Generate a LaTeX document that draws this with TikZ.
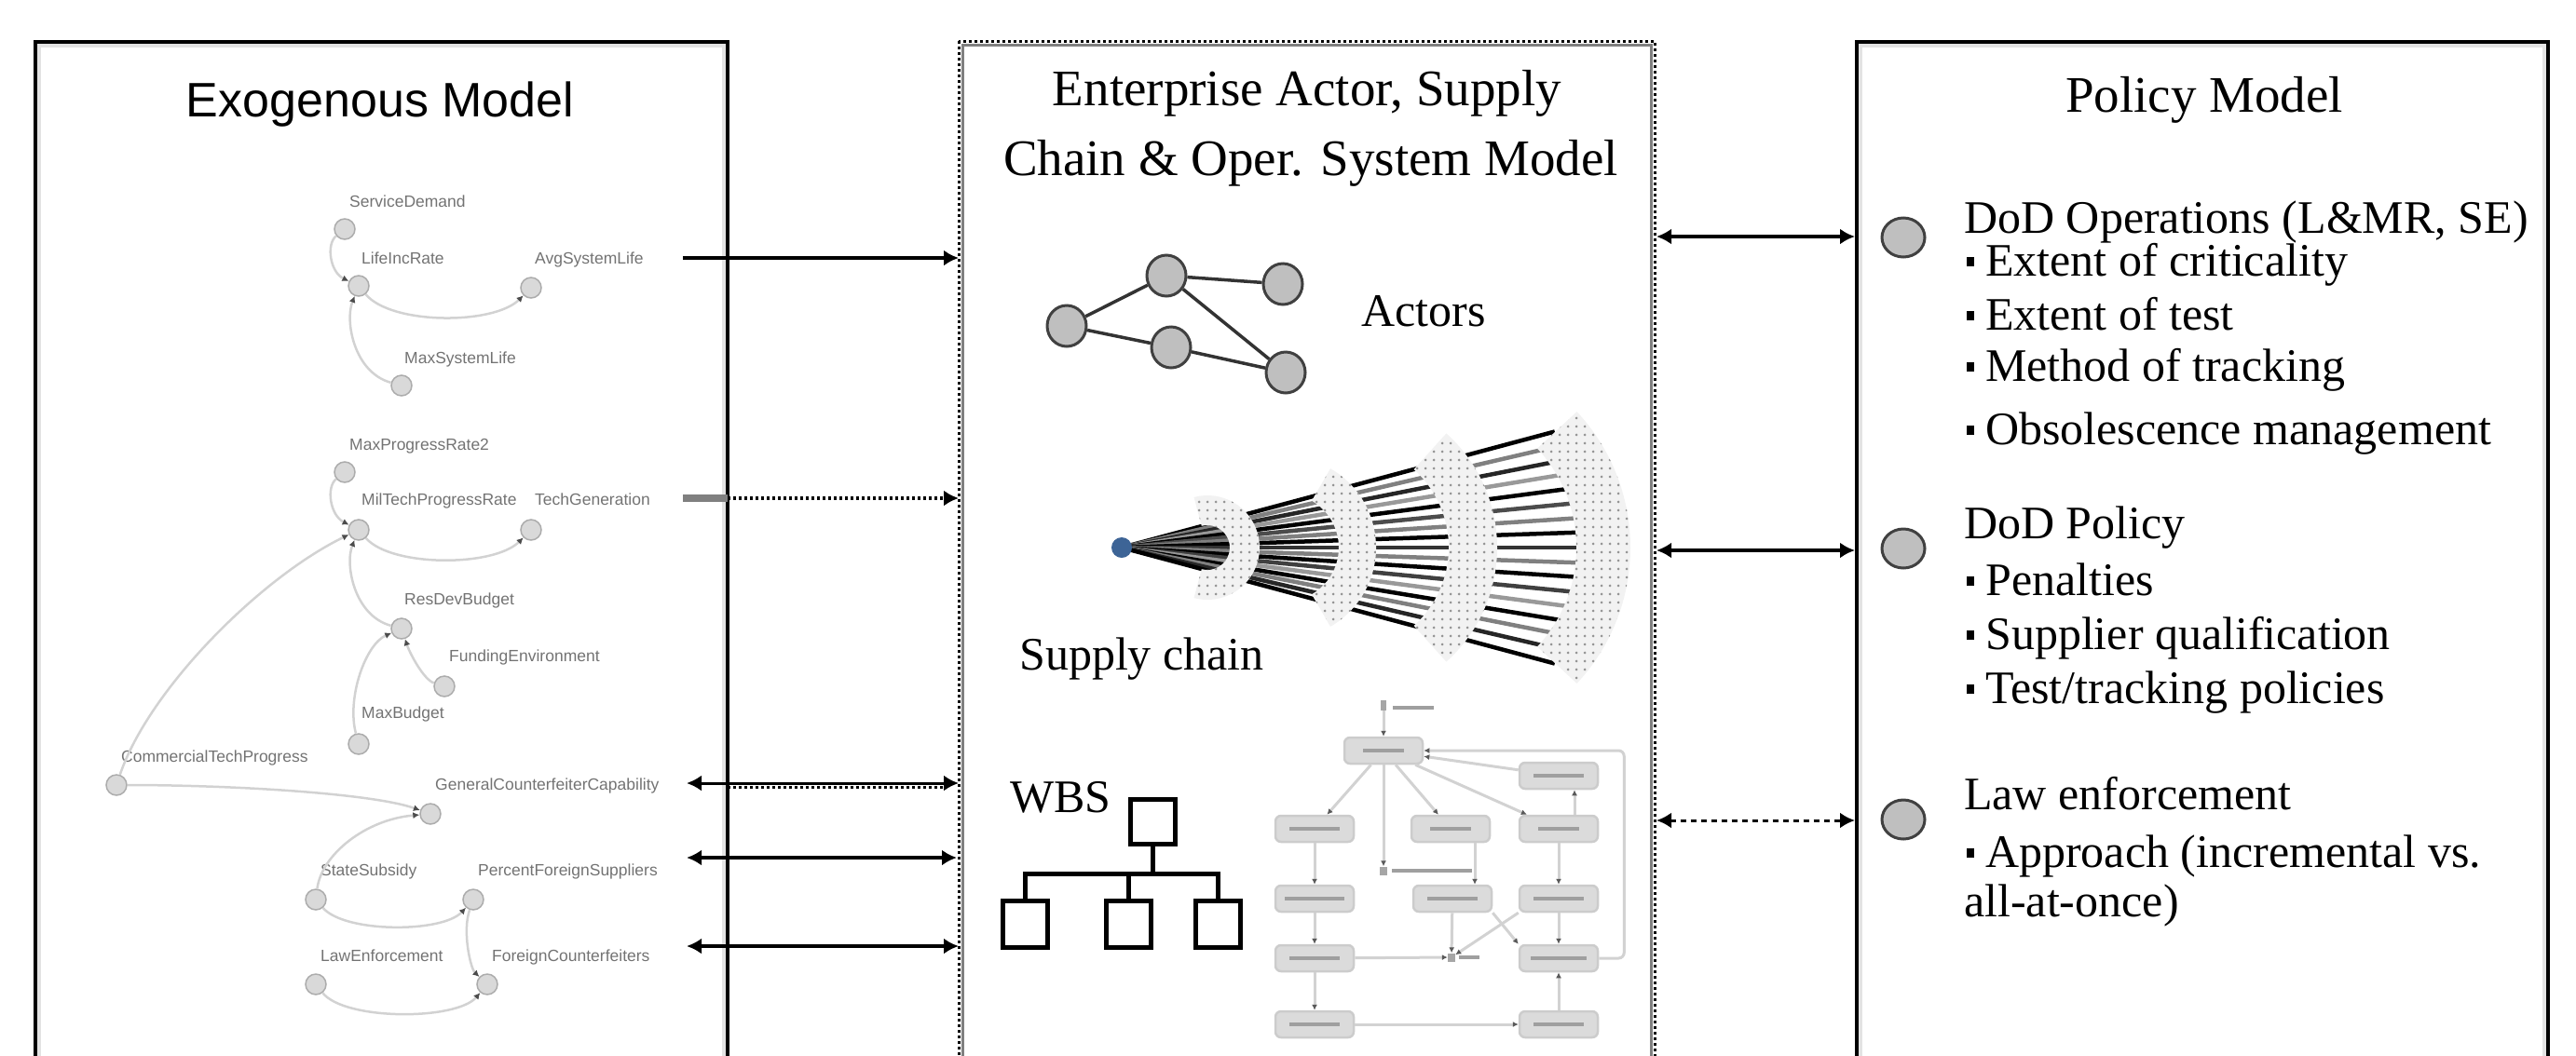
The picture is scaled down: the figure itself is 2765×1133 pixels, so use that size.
\documentclass[tikz,border=0pt]{standalone}
\usepackage{fontspec}
\setmainfont{Liberation Serif}
\newfontfamily\sansf{Liberation Sans}
\usetikzlibrary{arrows.meta,shapes.geometric,patterns.meta,calc}
\definecolor{dotblue}{HTML}{3D6496}
\newcommand{\mybar}[1]{\textcolor{gray!75}{\rule{#1}{4pt}}}
\newcommand{\sqb}{\rule[10pt]{8pt}{10pt}\hspace{12pt}}
\begin{document}
\begin{tikzpicture}[x=1pt,y=-1pt,
  conn/.style={line width=4pt, draw=black, >={Latex[length=16pt,width=17pt]}},
  blob/.style={ellipse, fill=gray!50, draw=black!75, line width=3pt, minimum width=42pt, minimum height=44pt, inner sep=0pt},
  enode/.style={circle, fill=gray!30, draw=gray!65, line width=1.5pt, minimum size=22pt, inner sep=0pt},
  elabel/.style={anchor=base west, inner sep=0pt, text=black!55, font=\sansf\fontsize{17.5}{20}\selectfont},
  ecurve/.style={draw=gray!35, line width=2.5pt, -{Latex[length=7pt,width=7pt,color=gray!60!black]}},
  title/.style={anchor=base, inner sep=0pt, font=\fontsize{55}{66}\selectfont},
  lab/.style={anchor=base west, inner sep=0pt, font=\fontsize{50}{60}\selectfont},
  pbox/.style={rounded corners=6pt, fill=gray!28, draw=gray!40, line width=2.5pt, minimum width=84pt, minimum height=28pt, inner sep=0pt},
  pedge/.style={draw=gray!35, line width=3pt, -{Latex[length=6pt,width=6pt,color=gray!70!black]}},
  psmall/.style={fill=gray!70, minimum width=8pt, minimum height=9pt, inner sep=0pt},
  wbsbox/.style={draw=black, line width=5pt, fill=white, minimum width=48pt, minimum height=48pt, inner sep=0pt},
  wbsline/.style={line width=5pt, draw=black}
]
\useasboundingbox (0,0) rectangle (2765,1133);

% ---------- panels ----------
\begin{scope}
\clip (0,0) rectangle (2765,1133);
\draw[line width=4pt, gray!22] (42,49) rectangle (777,1200);
\draw[line width=4pt, black] (38,45) rectangle (781,1200);
\draw[line width=3pt, gray] (1033,48) rectangle (1772,1200);
\draw[line width=3pt, black, dash pattern=on 3pt off 3pt] (1029,44) rectangle (1776,1200);
\draw[line width=4pt, gray!22] (1997,49) rectangle (2731,1200);
\draw[line width=4pt, black] (1993,45) rectangle (2735,1200);
\end{scope}

% ---------- titles ----------
\node[anchor=base, inner sep=0pt, font=\sansf\fontsize{52}{60}\selectfont] (exoT) at (408,125) {Exogenous Model};
\node[title] (midT1) at (1403,113) {Enterprise Actor, Supply};
\node[title] (midT2) at (1407,188) {Chain \& Oper. System Model};
\node[title] (polT) at (2366,120) {Policy Model};

% ---------- exogenous model graph ----------
\node[enode] (sdm) at (370,246) {};
\node[enode] (lir) at (385,307) {};
\node[enode] (asl) at (570,309) {};
\node[enode] (msl) at (431,414) {};
\node[enode] (mpr) at (370,507) {};
\node[enode] (mtp) at (385,569) {};
\node[enode] (tgn) at (570,569) {};
\node[enode] (rdb) at (431,675) {};
\node[enode] (fen) at (477,737) {};
\node[enode] (mbg) at (385,799) {};
\node[enode] (ctp) at (125,843) {};
\node[enode] (gcc) at (462,874) {};
\node[enode] (ssd) at (339,966) {};
\node[enode] (pfs) at (508,966) {};
\node[enode] (lwe) at (339,1057) {};
\node[enode] (fcf) at (523,1057) {};

\node[elabel] (sdmL) at (375,222) {ServiceDemand};
\node[elabel] (lirL) at (388,283) {LifeIncRate};
\node[elabel] (aslL) at (574,283) {AvgSystemLife};
\node[elabel] (mslL) at (434,390) {MaxSystemLife};
\node[elabel] (mprL) at (375,483) {MaxProgressRate2};
\node[elabel] (mtpL) at (388,542) {MilTechProgressRate};
\node[elabel] (tgnL) at (574,542) {TechGeneration};
\node[elabel] (rdbL) at (434,649) {ResDevBudget};
\node[elabel] (fenL) at (482,710) {FundingEnvironment};
\node[elabel] (mbgL) at (388,771) {MaxBudget};
\node[elabel] (ctpL) at (130,818) {CommercialTechProgress};
\node[elabel] (gccL) at (467,848) {GeneralCounterfeiterCapability};
\node[elabel] (ssdL) at (344,940) {StateSubsidy};
\node[elabel] (pfsL) at (513,940) {PercentForeignSuppliers};
\node[elabel] (lweL) at (344,1032) {LawEnforcement};
\node[elabel] (fcfL) at (528,1032) {ForeignCounterfeiters};

\draw[ecurve] (sdm) .. controls (350,262) and (354,292) .. (lir);
\draw[ecurve] (lir) .. controls (420,349) and (530,349) .. (asl);
\draw[ecurve] (msl) .. controls (380,400) and (370,345) .. (lir);
\draw[ecurve] (mpr) .. controls (350,523) and (354,553) .. (mtp);
\draw[ecurve] (mtp) .. controls (420,609) and (530,609) .. (tgn);
\draw[ecurve] (rdb) .. controls (380,661) and (370,606) .. (mtp);
\draw[ecurve] (ctp) .. controls (160,740) and (280,620) .. (mtp);
\draw[ecurve] (fen) .. controls (455,730) and (440,702) .. (rdb);
\draw[ecurve] (mbg) .. controls (372,750) and (392,692) .. (rdb);
\draw[ecurve] (ctp) .. controls (250,843) and (400,852) .. (gcc);
\draw[ecurve] (ssd) .. controls (345,918) and (392,880) .. (gcc);
\draw[ecurve] (ssd) .. controls (370,1002) and (475,1002) .. (pfs);
\draw[ecurve] (pfs) .. controls (496,1000) and (505,1040) .. (fcf);
\draw[ecurve] (lwe) .. controls (370,1096) and (490,1096) .. (fcf);

% ---------- actors ----------
\node[blob] (ac1) at (1145,350) {};
\node[blob] (ac2) at (1252,296) {};
\node[blob] (ac3) at (1377,305) {};
\node[blob] (ac4) at (1257,373) {};
\node[blob] (ac5) at (1380,400) {};
\draw[line width=3.5pt, black!80] (ac1) -- (ac2) (ac1) -- (ac4) (ac2) -- (ac3) (ac2) -- (ac5) (ac4) -- (ac5);
\node[lab] (actT) at (1461,350) {Actors};

% ---------- supply chain ----------
\coordinate (scc) at (1204,588);
\foreach \a/\c in {-15/black, -13.1/gray, -11.2/black!85, -9.4/gray!80, -7.5/black, -5.6/black!70, -3.7/gray, -1.9/black, 0/black!80, 1.9/gray, 3.7/black, 5.6/black!75, 7.5/gray!80, 9.4/black, 11.2/gray, 13.1/black!85, 15/black}{
  \pgfmathsetmacro\len{10*(32.8*cos(\a)+sqrt(18.5*18.5-(32.8*sin(\a))^2))}
  \draw[line width=4.5pt, \c] (scc) -- ++(\a:\len);
}
\foreach \cx/\r/\t/\h in {1296/40/32/105, 1379/78/40/60, 1442/139/52/48, 1536/185/58/43}{
  \pgfmathsetmacro\ro{\r+\t/2}
  \pgfmathsetmacro\ri{\r-\t/2}
  \path[pattern={Dots[radius=1.5pt,distance=9pt]}, pattern color=gray!85, preaction={fill=gray!10}]
    (\cx,588) ++(-\h:\ro) arc[start angle=-\h, end angle=\h, radius=\ro]
    -- ($(\cx,588)+(\h:\ri)$) arc[start angle=\h, end angle=-\h, radius=\ri] -- cycle;
}
\node[circle, fill=dotblue, minimum size=22pt, inner sep=0pt] (scdot) at (1204,588) {};
\node[lab] (scT) at (1094,719) {Supply chain};

% ---------- WBS ----------
\node[lab] (wbsT) at (1084,872) {WBS};
\node[wbsbox] (wt) at (1237,882) {};
\node[wbsbox, minimum height=50pt] (w1) at (1100,992) {};
\node[wbsbox, minimum height=50pt] (w2) at (1211,992) {};
\node[wbsbox, minimum height=50pt] (w3) at (1307,992) {};
\coordinate (wj) at (1237,938);
\draw[wbsline] (wt.south) -- (wj);
\draw[wbsline] (w1.north) |- (wj) -| (w3.north);
\draw[wbsline] (w2.north) -- (w2.north |- wj);

% ---------- process diagram ----------
\node[psmall, minimum width=6pt, minimum height=11pt] (pS) at (1485,757) {};
\node[anchor=west, inner sep=0pt] (pSl) at (1495,760) {\mybar{44pt}};
\node[pbox] (pA) at (1485,806) {\mybar{44pt}};
\node[pbox] (pB) at (1673,833) {\mybar{54pt}};
\node[pbox] (pC1) at (1411,890) {\mybar{54pt}};
\node[pbox] (pC2) at (1557,890) {\mybar{44pt}};
\node[pbox] (pC3) at (1673,890) {\mybar{44pt}};
\node[psmall] (pM1) at (1485,935) {};
\node[anchor=west, inner sep=0pt] (pM1l) at (1494,935) {\mybar{86pt}};
\node[pbox] (pD1) at (1411,965) {\mybar{64pt}};
\node[pbox] (pD2) at (1559,965) {\mybar{54pt}};
\node[pbox] (pD3) at (1673,965) {\mybar{54pt}};
\node[pbox] (pE1) at (1411,1029) {\mybar{54pt}};
\node[psmall] (pM2) at (1558,1028) {};
\node[anchor=west, inner sep=0pt] (pM2l) at (1566,1028) {\mybar{22pt}};
\node[pbox] (pE3) at (1673,1029) {\mybar{60pt}};
\node[pbox] (pF1) at (1411,1100) {\mybar{54pt}};
\node[pbox] (pF3) at (1673,1100) {\mybar{54pt}};

\draw[pedge] (pS) -- (pA);
\draw[pedge] (pA) -- (pC1);
\draw[pedge] (pA) -- (pM1);
\draw[pedge] (pA) -- (pC2);
\draw[pedge] (pA) -- (pC3);
\draw[pedge] (pB) -- (pA);
\draw[pedge] ($(pC3.north)+(17,0)$) -- ($(pB.south)+(17,0)$);
\draw[pedge] (pC1) -- (pD1);
\draw[pedge] ($(pC2.south)+(26,0)$) -- ($(pD2.north)+(24,0)$);
\draw[pedge] (pC3) -- (pD3);
\draw[pedge] (pD1) -- (pE1);
\draw[pedge] (pD2) -- (pM2);
\draw[pedge] (pD2.south east) -- (pE3.north west);
\draw[pedge] (pD3.south west) -- (pM2);
\draw[pedge] (pD3) -- (pE3);
\draw[pedge] (pE1) -- (pM2);
\draw[pedge, rounded corners=6pt] (pE3.east) -- ++(27,0) |- (pA.east);
\draw[pedge] (pE1) -- (pF1);
\draw[pedge] (pF3) -- (pE3);
\draw[pedge] (pF1) -- (pF3);

% ---------- policy model ----------
\node[blob, minimum width=46pt, minimum height=42pt] (pe1) at (2043,255) {};
\node[blob, minimum width=46pt, minimum height=42pt] (pe2) at (2043,589) {};
\node[blob, minimum width=46pt, minimum height=42pt] (pe3) at (2043,880) {};
\node[lab] (op0) at (2108,250) {DoD Operations (L\&MR, SE)};
\node[lab] (op1) at (2111,296) {\sqb Extent of criticality};
\node[lab] (op2) at (2111,354) {\sqb Extent of test};
\node[lab] (op3) at (2111,409) {\sqb Method of tracking};
\node[lab] (op4) at (2111,477) {\sqb Obsolescence management};
\node[lab] (po0) at (2108,578) {DoD Policy};
\node[lab] (po1) at (2111,639) {\sqb Penalties};
\node[lab] (po2) at (2111,697) {\sqb Supplier qualification};
\node[lab] (po3) at (2111,755) {\sqb Test/tracking policies};
\node[lab] (le0) at (2108,869) {Law enforcement};
\node[lab] (le1) at (2111,931) {\sqb Approach (incremental vs.};
\node[lab] (le2) at (2108,984) {all-at-once)};

% ---------- connectors between panels ----------
\coordinate (l1a) at (733,277);  \coordinate (l1b) at (1029,277);
\coordinate (l2a) at (733,535);  \coordinate (l2m) at (781,535); \coordinate (l2b) at (1029,535);
\coordinate (l3a) at (737,841);  \coordinate (l3m) at (781,845); \coordinate (l3b) at (1029,841); \coordinate (l3c) at (1012,845);
\coordinate (l4a) at (737,921);  \coordinate (l4b) at (1027,921);
\coordinate (l5a) at (737,1016); \coordinate (l5b) at (1029,1016);
\coordinate (r1a) at (1778,254); \coordinate (r1b) at (1991,254);
\coordinate (r2a) at (1778,591); \coordinate (r2b) at (1991,591);
\coordinate (r3a) at (1778,881); \coordinate (r3b) at (1991,881);

\draw[conn, ->] (l1a) -- (l1b);
\draw[line width=8pt, gray] (l2a) -- (l2m);
\draw[conn, ->, dash pattern=on 3pt off 3pt] (l2m) -- (l2b);
\draw[conn, <->, line width=3pt] (l3a) -- (l3b);
\draw[line width=3pt, dash pattern=on 3pt off 3pt] (l3m) -- (l3c);
\draw[conn, <->] (l4a) -- (l4b);
\draw[conn, <->] (l5a) -- (l5b);
\draw[conn, <->] (r1a) -- (r1b);
\draw[conn, <->] (r2a) -- (r2b);
\draw[conn, <->, line width=3pt, dash pattern=on 6pt off 5pt] (r3a) -- (r3b);
\end{tikzpicture}
\end{document}
